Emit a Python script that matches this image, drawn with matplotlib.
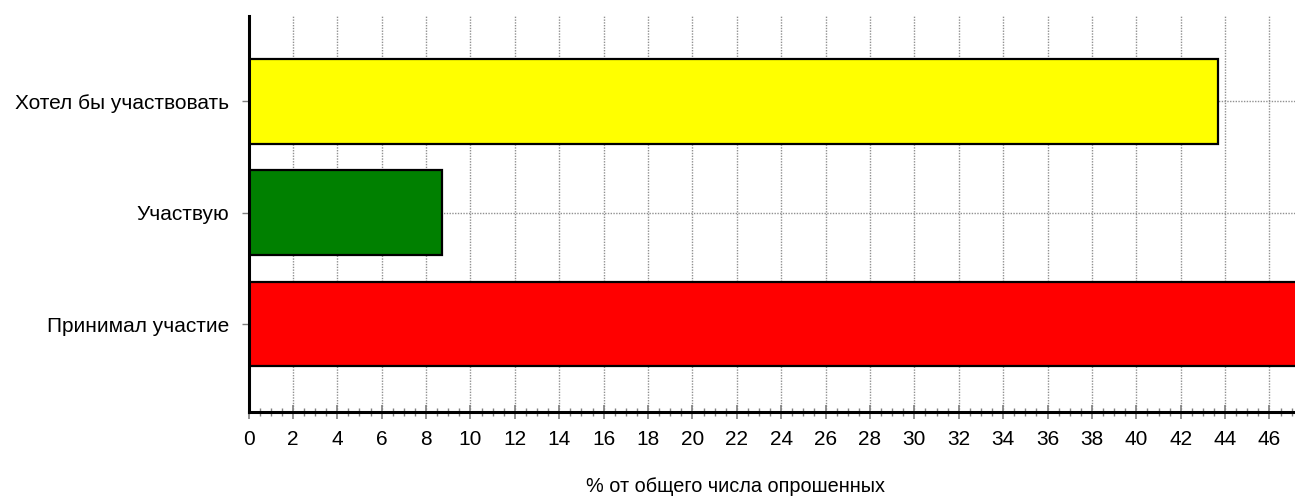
import matplotlib
matplotlib.use("Agg")
import matplotlib.pyplot as plt
from matplotlib import font_manager
from matplotlib.ticker import MultipleLocator

categories = ["Принимал участие", "Участвую", "Хотел бы участвовать"]
values = [47.8, 8.7, 43.7]
colors = ["#ff0000", "#008000", "#ffff00"]
xlabel = "% от общего числа опрошенных"

names = {f.name for f in font_manager.fontManager.ttflist}
narrow = "Liberation Sans Narrow" if "Liberation Sans Narrow" in names else "Liberation Sans"

W, H = 1295, 500
fig = plt.figure(figsize=(W / 100, H / 100), dpi=100)
x0, x1 = 248.5, 1295
y_top, y_bot = 16, 412
ax = fig.add_axes([x0 / W, 1 - y_bot / H, (x1 - x0) / W, (y_bot - y_top) / H])

ypos = list(range(len(categories)))
ax.barh(ypos, values, height=0.76, color=colors, edgecolor="black", linewidth=1.6, zorder=3)

xmax = 47.15
ax.set_xlim(0, xmax)
ax.set_ylim(-0.79, 2.765)
ax.xaxis.set_minor_locator(MultipleLocator(0.5))
major = list(range(0, 48, 2))
ax.set_xticks(major)
ax.set_xticklabels([str(t) for t in major], fontfamily=narrow, fontsize=15)
ax.set_xlim(0, xmax)
ax.set_yticks(ypos)
ax.set_yticklabels(categories, fontfamily=narrow, fontsize=15)

ax.tick_params(axis="x", which="major", direction="inout", length=10, width=1.2, color="#808080", pad=8)
ax.tick_params(axis="x", which="minor", direction="inout", length=6, width=1, color="#808080")
ax.tick_params(axis="y", which="major", direction="out", length=5, width=1, color="#808080", pad=9)

ax.grid(True, axis="both", which="major", color="#909090", linestyle=(0, (1, 1)), linewidth=1, zorder=0)
ax.set_axisbelow(True)

for s in ["top", "right"]:
    ax.spines[s].set_visible(False)
for s in ["left", "bottom"]:
    ax.spines[s].set_linewidth(2.2)
    ax.spines[s].set_color("black")
    ax.spines[s].set_zorder(4)

fig.text(735 / W, 1 - 487 / H, xlabel, ha="center", va="center", fontsize=14.3,
         fontfamily="Liberation Sans")

fig.savefig("out.png", dpi=100)
